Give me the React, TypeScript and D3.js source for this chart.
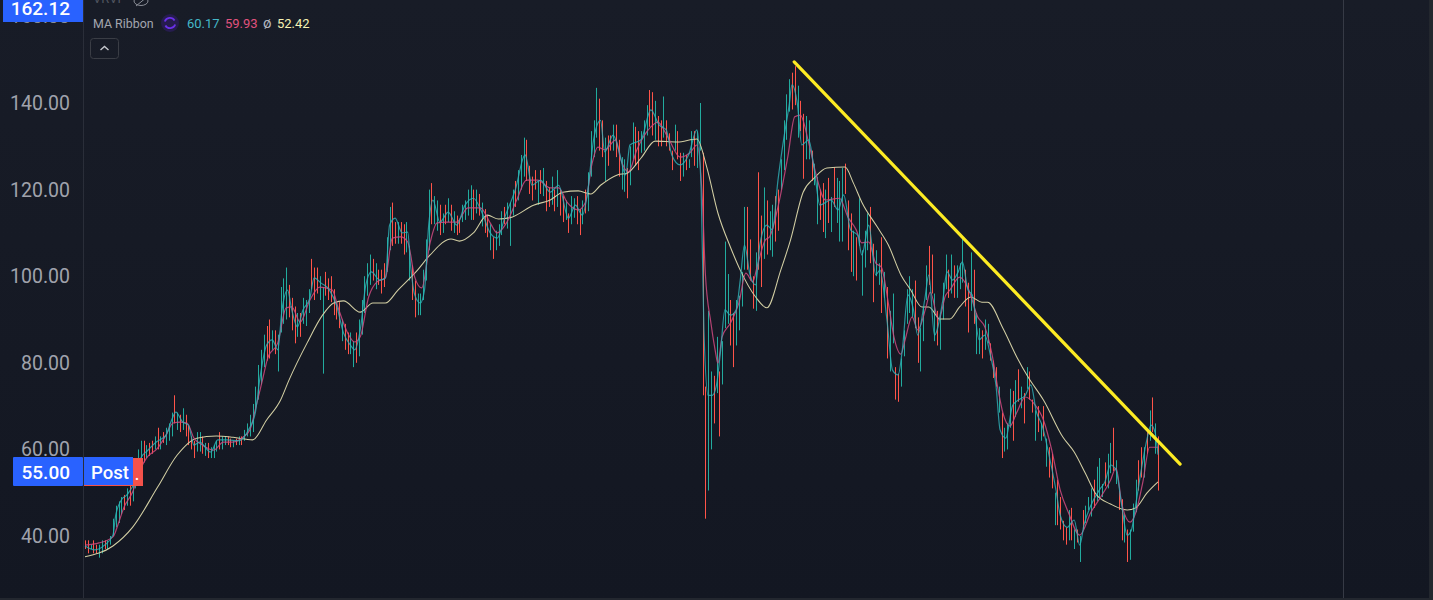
import React from "react";
import * as d3 from "d3";

const tickPrices = [40, 60, 80, 100, 120, 140, 160];

const highs = [
  39,39,38,39,38,38,39,39,39,40,
  44,47,48,49,49.5,51,52,54,56,60,
  62,62,61,61.5,62,63,65,63,64,65,
  66,68.5,72.5,68.5,68,69.5,68,65.5,63,62,
  64,64,63,61.5,61.5,60.5,61,62,64,63,
  63,63,62.5,62,62.5,63,63,64.5,66,68,
  70.5,74.5,79.5,83,86.5,88.5,90,87.5,87.5,86.5,
  97.5,99.5,102,98,95,93,91.5,91.5,95,94.5,
  97,104,102,102,100,97.5,101,99.5,100,97,
  94,94,90,89,87,87,85,87,90,94.5,
  100,103,105,104,103,101.5,101.5,103,109,116,
  117,112.5,112.5,112.5,112,112.5,107,102.5,99,96,
  96,101.5,108.5,120,121.5,118.5,117.5,116.5,114.5,116.5,
  118,116.5,115,114,113,116.5,117.5,120,121,120,
  120,119,117,115.5,114,112,109,110.5,112,115,
  116,117,117,120,122,124.5,128,132,131.5,125.5,
  123,124.5,122,124.5,125,122,120.5,123,120,124.5,
  120,118.5,117.5,114.5,118.5,118,118.5,115.5,117.5,120,
  124,133.5,136,143.5,141,136,132,132.5,132.5,135,
  135,131.5,127.5,127,125,130,135.5,134.5,133.5,133.5,
  136,139.5,143,142.5,140.5,137,136,141.5,136,133,
  129,135,133.5,128.5,128.5,128,127,133.5,133.5,133.5,
  140,128.5,74.5,92,78,77,86,78,85,108,
  100.5,94.5,91.5,94.5,95.5,101,116,116,108.5,100,
  105.5,124,114,120.5,117.5,115,116.5,118.5,120,127,
  136,142,145.5,147,148.5,144,140.5,137.5,137,136,
  129,126,123,120,121.5,120,122.7,118.3,125.2,122.7,
  122,125,126,117.5,114.5,110.5,109,118,106,
  110.5,114.5,116,107.5,106,103,109,101,97.5,
  92,96,79,77.5,81,87.5,97,100,97,
  99,90.5,88,93,102.5,107,105,96,92,91,
  98.5,105,101.5,105,102.5,102.5,103,109,101.5,98.5,
  105.5,101.5,91.5,88,87.5,90,89,84.5,80.5,79,
  74.5,68.5,65,66,74,73.5,76,78.5,74.5,73,
  79,78,71.5,69,70,66,70,62.5,60.5,59,
  50,53,49,43.5,42,46,46.5,41.5,41.5,40,
  46,47,49,51,53,56,58,52,57,59,
  61.5,65,57.5,50.5,48.5,45,41.5,41.5,47.5,53,
  57.5,60.5,60.5,64,69,72,66,63,
];

const lows = [
  37,36,37,36,36,35,36,37,37,38,
  40,42,43,45,46,47,47,48,51,54,
  56,57,58,58.5,59,60,60,60,61.5,61,
  62,63,66,64.5,64,64.5,63,61,60,58,
  59.5,59.5,59,58.5,58,58,58,59.5,60,60,
  61,61,60.5,60.5,61,61,61,62,63,63,
  64,69,71.5,75,79,80.5,81,83,82,78,
  87,89,90,90.5,87.5,84.5,86,86,89,88.5,
  91.5,97,94.5,96,94.5,77.5,95.5,94.5,94,91,
  90,88,85,83,82,82,79,80,81.5,86.5,
  91.5,95.5,98,99,97,98,96,97.5,101,106,
  107,107.5,107.5,107.5,105,105.5,99,94.5,90.5,91,
  91,94.5,99,106,112,112,110.5,109.5,110,112,
  112.5,110.5,110,109.5,110,112.5,113,114,113,113,
  114.5,114,111.5,110,109,106,104,106,107,109.5,
  112,111,107,114,116,117.5,120,123,122,119,
  117.5,120,116.5,119,118.5,115,116,116.5,115,116,
  114,112.5,113,110,112,113.5,112,109.5,112,114.5,
  115,123,127.5,132,129,127.5,122,125.5,129,129,
  127.5,123,120,119.5,118,121,127,125.5,124.5,128.5,
  129,132.5,134.5,132.5,131.5,130,130,132,130,129,
  124.5,129,127,122,123,124.5,125,127.5,125.5,125,
  129,72.5,44,50.5,60,66,73,63,75,88,
  89,84,79,84,87.5,93,101.5,101.5,99,92.5,
  92,101.5,97.5,104,105,106,104.5,108,110.5,120,
  124.5,131.5,138,138.5,139.5,132,133.5,122.5,127,127,
  122,121,112,113,110.2,108.8,112.3,110.2,116,112.3,
  108,108,119,106,101,100,99,107,95.5,
  102,106,103,94,100,98,91.5,95,81,
  78,84.5,71.5,71,74.5,81.5,89,91.5,90.5,
  88,80,78,85,94.5,98,96,85,84,83,
  90,97,95,96,95,95,97,98.5,93,87,
  92,89,82,82,81,83,84.5,80.5,76.5,74.5,
  68.5,58,59.5,60,65,62,67.5,71,69.5,66,
  74,71.5,68.5,62,64,62,63,56,53.5,51,
  42.5,42.5,41.5,39,38,39,39,37,38.5,34,
  41.5,43,46,44.5,46.5,48,48.5,49,51.5,51,
  54.5,55,52,46,39,38.5,34,34.5,41,45.5,
  50.5,53.5,53.5,59,62,64,59,50.5,
];

const directions = [
  "rrgrrggrgg","ggggrgrggg","grgrrgrgrg","ggrgrgrrrr","ggrgrgggrg","grrgrgrggg",
  "gggggrrgrg","gggrrrgrgg","grrrggrrrr","rrgrrggrgg","gggrgrrrgg","rrgrrggrrg",
  "ggggrggrgr","grgrrggggr","grgrrgrggg","rgggrgggrr","rrgrgrrgrg","rrgrggrrgr",
  "ggggrrgrrg","rrggrggrrg","ggrrgrrgrr","rgrrgrggrg","grrggrgrgg","grrggggrrr",
  "grrgrggrrg","gggrrgrrgg","rggrrgrgrg","ggrrrgrgg","ggrrggrgr","ggrrggggg",
  "rrgggrrgrg","ggrgrgggrr","grggrggrrr","grgggrgrgr","grrgrgrgrr",
  "grrrrgrgrg","rgggrgggrg","grgrrgrggg","rrgrgrgr",
];

// Moving-average ribbon: bar number, then price.
const fastAt = [0,3.5,7,10,11,13,15,18,20,22.5,25.5,29,31,32.5,35,37,39,41,45,47.5,51,55,58.5,61,62.5,65,67,69,70.5,72.5,74,76,78,80.5,82,84.5,87.5,90,92.5,95,96.5,98.5,100.5,102.5,105.5,107.5,109,111,113.5,115.5,116.5,118,120,121.5,123,124.5,127,130,133,136,139,142,145,147.5,150.5,154,157.5,160,163,166.5,169.5,173,175.5,178,180,182,184.5,186,189,191,193.5,195,199,202.5,205.5,208,210,213,216,219,220.5,221.5,223,224.5,226,227.5,229,231,233,234.5,236,238,240,241.5,244,246,248,250,252,253,255,256.5,259,261,263,267,269.5,271.5,274,276.5,278,280.5,283,284.5,287,289,291,292.5,294.5,296.5,298,300.5,302,304,307,308.5,310.5,312.5,314,316,317.5,320,322,324,326,327.5,329.5,332,334,336.5,338.5,340.5,342.5,345,347.5,349,351.5,354,356,357.5,360,363,365,367,369,371,373,374.5,376,378,380,381.5,383,384];
const fastPrice = [37.7,36.8,37.9,40.2,44.8,48.3,49.5,52.9,58,59.8,61.7,63.3,66.8,68.6,66.3,65.6,61,61.7,59.4,62.2,62.2,62,64.5,68.6,76,84.1,85.3,83,92.2,96.8,92.2,88.3,92.2,95,99.6,98.4,96.8,93.3,86.9,84.1,83,87.6,98,101,99.1,99.6,111.8,113.4,110,110.2,102.6,95.7,93.8,96.8,111.8,117.6,112.5,114.8,111.8,116.4,118,114.8,110,108.8,114.1,120,128,121,122.2,119.4,121,113.4,116.4,114.1,120,131.5,136,128.7,132.6,129.2,123.4,130.3,131.5,138.4,134.9,133.8,128,125.7,128,133.8,119.9,87.6,72.5,72.5,74.9,83,92.2,91,92.2,99.1,107.2,100.3,98,107.2,111.8,110.7,122.2,131.5,139.5,144.2,139.5,130.3,131.5,124.5,116.4,117.6,115.3,118.8,110.7,109.5,104.9,111.8,100.3,101.4,89.9,78.3,77.2,83,95.7,92.2,86.4,94.5,100.3,86.4,94.5,101,99.1,101,103.3,96.8,95.7,85.3,86.4,81.8,74.9,64.5,62.6,70.2,71.4,72.5,74.9,68.6,65.6,58.7,50.6,44.8,42,43.7,37.9,42.5,47.1,50.6,52.5,56.4,55.2,47.1,40.2,41.4,47.1,55.2,62.2,65.6,63.8,58.8];

const midAt = [0,5,10,12,14,17,20,22,26,29,31.5,34,36.5,39,42,46,49.5,53,56.5,59,61.5,63.5,65.5,69,72,74,77,80.5,84,88.5,90.5,94,96.5,98.5,101.5,104.5,107.5,110,113,115.5,118,120.5,123.5,126,129.5,133,137,141.5,145,147.5,151,154.5,158,162,166.5,169.5,172.5,176.5,179,181.5,183.5,186,190,191.5,194.5,197.5,202.5,205,208.5,213,216.5,219,221,222,224,225.5,226.5,228,231,234,236.5,239,240.5,243.5,245,248,251.5,254,256,259,261.5,265,270,273,276,278,280.5,283,285,287.5,289.5,292,293.5,296,298,301,302.5,305.5,308,309.5,313,316,319.5,322,324.5,327,328.5,331,333.5,336.5,339.5,343,346,349,352,356,360,363.5,367,369,371,374,376,378.5,381,384];
const midPrice = [37.9,38.4,39.8,43,46.7,50.1,55.7,58,60.3,63.3,66.1,66.3,66.1,62.6,61,59.8,61.7,61.7,62.8,64.5,70.7,76,81.3,84.6,92.7,92.9,89.4,94.5,97.5,96.8,92.9,86.9,84.8,86,95.2,98.7,99.6,108.8,109.1,107.9,99.8,97.3,107.7,112.3,112.5,112.5,115.8,115.8,112.3,110,112.5,117.6,122.2,122.2,120.4,120.4,117.1,115.3,116.9,126.1,129.8,129.2,131.5,127.5,124.1,129.2,134.5,135.6,132.2,127.5,128.5,130.3,116.9,100.7,89.2,83,79.9,86,89.2,93.8,100.7,98.7,102.1,108.4,109.1,116,127.5,136.8,137.2,130.8,123.8,117.6,118,113.7,110.7,107.7,107.9,103,102.1,93.8,86,82,85.3,90.6,87.6,92.9,96.3,89.9,95.6,96.8,99.8,97.3,90.6,88.3,82.3,73,68.4,65.4,68.6,72.1,70.7,66.8,59.8,50.6,45.3,40.2,45.5,49,52.9,55.7,47.6,43.2,45.3,52.2,60.5,60.5];

const slowAt = [0,10,17,26,33,40,47,53,60,65,70,73,79.5,85,89,92.5,98.5,103,107.5,112,119,123.5,131,134,139,144,148,153,160.5,166.5,171,176.5,181,184.5,190.5,194,199,204,212,219,222.5,226.5,231,234.5,240,244,249,252.5,257,261,265.5,272,275,278,283.5,287.5,292,295.5,299.5,302,306,309.5,313,317,321,323,328.5,333.5,337.5,343,350,354,358,362,367,373,376,380,384];
const slowPrice = [35.2,37.7,42,51.3,58.7,62.6,63.1,62.8,62.2,66.8,71.4,76,84.6,91,93.8,94.3,91.7,93.8,93.8,96.8,101.4,104.9,108.6,108.1,110,114.1,113.2,113.7,116.4,117.6,119.4,119.7,119,121,123.4,123.8,127.3,131.2,131,131.7,125.2,114.6,106.7,101.4,95.2,92.7,101.4,108.4,119.4,122.7,125,125.2,121.5,117.1,111.4,107.2,100.3,96.8,92.9,92.9,90.1,90.1,92.9,95.2,94,94,88,81.3,76.7,71.4,62.8,59.4,54.5,49.5,47.4,46,46.5,49.9,52.5];

const trendAt = [253.8, 391.9];
const trendPrice = [149.5, 56.6];

const legendValues = ["60.17", "59.93", "52.42"];
const lastClose = "55.00";
const topPrice = "162.12";

const UP = "#22ab9e";
const DOWN = "#ff5449";
const FONT = "Roboto, sans-serif";

export default function App() {
  const x = d3.scaleLinear().domain([0, 384]).range([85, 1158]);
  const y = d3.scaleLinear().domain([40, 140]).range([536, 103]);
  const ups = directions.join("");
  const bars = highs.map((h, i) => ({ h, l: lows[i], up: ups[i] !== "r", i }));

  const ribbon = (at: number[], price: number[]) =>
    d3
      .line<number>()
      .x((a) => x(a))
      .y((_, i) => y(price[i]))
      .curve(d3.curveMonotoneX)(at) ?? "";

  return (
    <svg
      width={1433}
      height={600}
      style={{ position: "absolute", left: 0, top: 0, display: "block" }}
      fontFamily={FONT}
    >
      <defs>
        <linearGradient id="bg" x1="0" y1="0" x2="0" y2="1">
          <stop offset="0" stopColor="#181c27" />
          <stop offset="1" stopColor="#131722" />
        </linearGradient>
      </defs>
      <rect width={1433} height={600} fill="url(#bg)" />
      <rect x={83} y={0} width={1} height={600} fill="#2a2e39" />
      <rect x={1343} y={0} width={1} height={600} fill="#363a45" />
      <rect x={0} y={598} width={1433} height={2} fill="#23272f" />
      <rect x={1429} y={0} width={4} height={600} fill="#23272e" />

      {tickPrices.map((t) => (
        <text
          key={t}
          x={70}
          y={y(t)}
          dy="0.36em"
          textAnchor="end"
          fontSize={19.5}
          fill={t === 160 ? "#8a8e98" : "#a0a3ac"}
        >
          {t.toFixed(2)}
        </text>
      ))}

      {bars.map((b) => (
        <rect
          key={b.i}
          x={Math.round(x(b.i))}
          y={y(b.h)}
          width={1}
          height={Math.max(1, y(b.l) - y(b.h))}
          fill={b.up ? UP : DOWN}
        />
      ))}

      <path d={ribbon(slowAt, slowPrice)} fill="none" stroke="#d3cfa4" strokeWidth={1.05} />
      <path d={ribbon(midAt, midPrice)} fill="none" stroke="#cf4a80" strokeWidth={1.2} opacity={0.85} />
      <path d={ribbon(fastAt, fastPrice)} fill="none" stroke="#2fb3ba" strokeWidth={1.2} opacity={0.8} />

      <line
        x1={x(trendAt[0])}
        y1={y(trendPrice[0])}
        x2={x(trendAt[1])}
        y2={y(trendPrice[1])}
        stroke="#fdeb23"
        strokeWidth={3.2}
        strokeLinecap="round"
      />

      {/* Top price tag */}
      <rect x={3} y={0} width={80} height={22} fill="#2962ff" />
      <text x={70} y={8} dy="0.36em" textAnchor="end" fontSize={19} fontWeight={500} fill="#ffffff">
        {topPrice}
      </text>

      {/* Post-market tag */}
      <rect x={133} y={458} width={10} height={28} fill="#f5524b" />
      <rect x={84} y={484.5} width={59} height={1.5} fill="#f5524b" />
      <text x={135} y={480} fontSize={14} fontWeight={700} fill="#ffffff">.</text>
      <rect x={13} y={457} width={70} height={29} rx={1} fill="#2962ff" />
      <rect x={84} y={457} width={49} height={28} fill="#2962ff" />
      <text x={70} y={472} dy="0.36em" textAnchor="end" fontSize={19} fontWeight={500} fill="#ffffff">
        {lastClose}
      </text>
      <text x={91} y={472} dy="0.36em" fontSize={18.5} fontWeight={500} fill="#ffffff">
        Post
      </text>

      {/* Legend */}
      <text x={93} y={3} fontSize={13} fill="#50545f">VRVP</text>
      <g fill="none" stroke="#8b8e97" strokeWidth={1}>
        <ellipse cx={141} cy={1} rx={7} ry={4.5} />
        <line x1={136} y1={6} x2={147} y2={-3} />
      </g>
      <text x={93} y={28} fontSize={12.4} fill="#a3a6af">MA Ribbon</text>
      <circle cx={170} cy={23} r={9} fill="#261c4e" />
      <g fill="none" stroke="#6a30e8" strokeWidth={1.8}>
        <path d="M164.8 21.5 A5.4 5.4 0 0 1 174.6 20.5" />
        <path d="M175.2 24.5 A5.4 5.4 0 0 1 165.4 25.5" />
      </g>
      <text x={187} y={28} fontSize={13} fill="#45b8c8">{legendValues[0]}</text>
      <text x={225} y={28} fontSize={13} fill="#e0527e">{legendValues[1]}</text>
      <text x={263} y={28} fontSize={15} fill="#b2b5be">ø</text>
      <text x={277} y={28} fontSize={13} fill="#f7f2b4">{legendValues[2]}</text>

      <rect x={90.5} y={38.5} width={28} height={20} rx={3} fill="none" stroke="#3a3d45" />
      <path d="M100.5 50 L104.5 46.5 L108.5 50" fill="none" stroke="#c4c6cc" strokeWidth={1.4} />
    </svg>
  );
}
